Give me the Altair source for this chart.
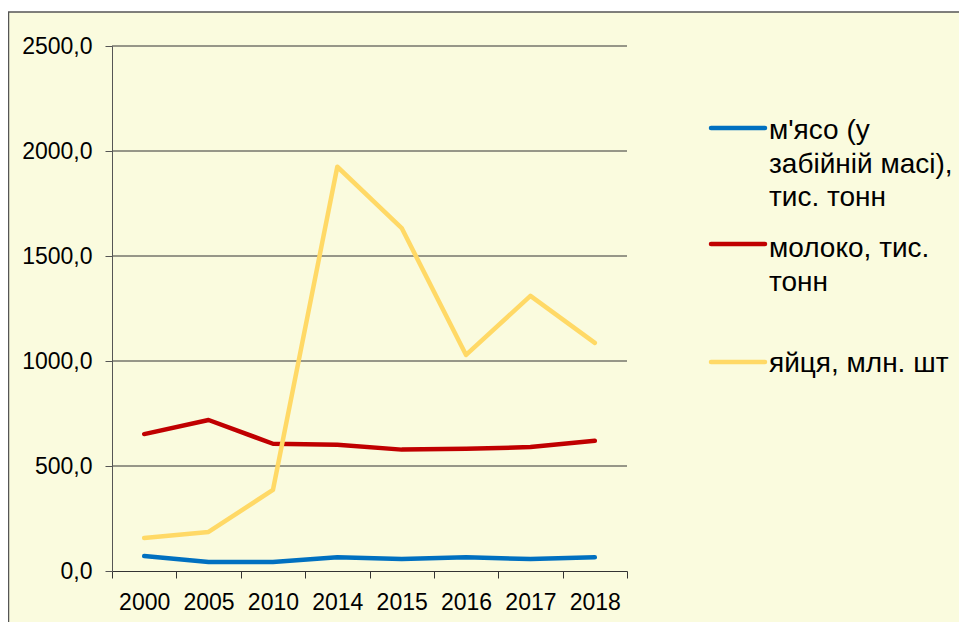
import altair as alt
import pandas as pd

years = ["2000", "2005", "2010", "2014", "2015", "2016", "2017", "2018"]
series_names = ["м'ясо (у забійній масі), тис. тонн", "молоко, тис. тонн", "яйця, млн. шт"]
meat = [71, 43, 43, 65, 57, 65, 57, 65]
milk = [652, 719, 606, 601, 578, 582, 590, 620]
eggs = [157, 186, 386, 1925, 1633, 1029, 1310, 1086]
colors = ["#0070C0", "#C00000", "#FFD966"]
legend_lines = [["м'ясо (у", "забійній масі),", "тис. тонн"], ["молоко, тис.", "тонн"], ["яйця, млн. шт"]]
y_ticks = [0, 500, 1000, 1500, 2000, 2500]

rows = []
for name, vals in zip(series_names, [meat, milk, eggs]):
    for yr, v in zip(years, vals):
        rows.append({"year": yr, "series": name, "value": v})
df = pd.DataFrame(rows)

FONT = "Liberation Sans"
W, H = 515, 525
BG = "#FAFBDE"

y_axis = alt.Axis(
    values=y_ticks,
    labelExpr="replace(format(datum.value, '.1f'), '.', ',')",
    grid=False, domainColor="#555", tickColor="#555", tickSize=7,
    labelPadding=13, labelFontSize=23, labelFont=FONT, labelColor="black",
    title=None, zindex=1,
)
y_enc_scale = alt.Scale(domain=[0, 2500], nice=False, zero=True)

frame = alt.Chart(pd.DataFrame({"a": [0]})).mark_rect(
    fill=BG, stroke="#555", strokeWidth=1.5
).encode(
    x=alt.value(-103.5), x2=alt.value(880), y=alt.value(-34), y2=alt.value(620)
)

grid = alt.Chart(pd.DataFrame({"v": y_ticks[1:]})).mark_rule(
    color="#333", strokeWidth=1
).encode(
    y=alt.Y("v:Q", scale=y_enc_scale, axis=y_axis)
)

lines = alt.Chart(df).mark_line(
    strokeWidth=4.5, strokeCap="round", strokeJoin="round"
).encode(
    x=alt.X(
        "year:N", sort=years,
        scale=alt.Scale(type="band", paddingInner=0, paddingOuter=0),
        axis=alt.Axis(
            tickBand="extent", labelAngle=0, tickSize=7, labelPadding=13,
            labelFontSize=23, labelFont=FONT, labelColor="black",
            domainColor="#333", tickColor="#333", title=None, zindex=1, grid=False,
        ),
    ),
    y=alt.Y("value:Q", scale=y_enc_scale, axis=y_axis),
    color=alt.Color("series:N", scale=alt.Scale(domain=series_names, range=colors), legend=None),
)

# legend (drawn manually, to the right of the plot)
LEG_X0, LEG_X1, LEG_TX = 599, 653, 657
LEG_SYM_Y = [82, 198, 316]
LEG_TXT_Y = [93, 211, 326]

layers = [frame, grid, lines]
for i, (name, col, lab) in enumerate(zip(series_names, colors, legend_lines)):
    d = pd.DataFrame({"s": [name]})
    sym = alt.Chart(d).mark_rule(color=col, strokeWidth=4.5, strokeCap="round").encode(
        x=alt.value(LEG_X0), x2=alt.value(LEG_X1), y=alt.value(LEG_SYM_Y[i])
    )
    txt = alt.Chart(d).mark_text(
        align="left", baseline="alphabetic", font=FONT, fontSize=28,
        lineHeight=33.5, color="black"
    ).encode(
        x=alt.value(LEG_TX), y=alt.value(LEG_TXT_Y[i]), text=alt.value(lab)
    )
    layers += [sym, txt]

chart = alt.layer(*layers).properties(
    width=W, height=H,
    autosize=alt.AutoSizeParams(type="none"),
    padding={"left": 104, "top": 38, "right": 332, "bottom": 51},
    background="white",
).configure_view(stroke=None)

chart.save("out.html", embed_options={"renderer": "svg", "actions": False})
